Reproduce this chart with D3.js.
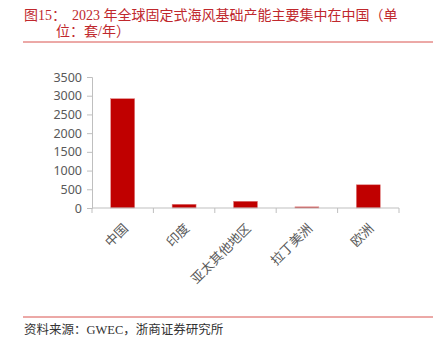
<!DOCTYPE html>
<html lang="zh">
<head>
  <meta charset="UTF-8" />
  <title>2023年全球固定式海风基础产能</title>
  <script src="https://d3js.org/d3.v7.min.js"></script>
  <style>
    body { margin: 0; padding: 0; background: #fff; }
    svg { display: block; }
    .title { font-family: "Liberation Serif", "Noto Sans CJK SC", serif; font-size: 14px; fill: #c0282d; }
    .source { font-family: "Liberation Serif", "Noto Sans CJK SC", serif; font-size: 12.5px; fill: #333; }
    .tick-label { font-family: "Noto Sans", "DejaVu Sans", sans-serif; font-size: 12.5px; fill: #595959; }
    .cat-label { font-family: "Noto Sans CJK SC", sans-serif; font-size: 13px; fill: #595959; }
  </style>
</head>
<body>
  <svg width="436" height="359"></svg>

  <script>
    // 数据
    const categories = ["中国", "印度", "亚太其他地区", "拉丁美洲", "欧洲"];
    const capacity = [2920, 100, 180, 30, 620];
    const yTicks = [0, 500, 1000, 1500, 2000, 2500, 3000, 3500];

    const svg = d3.select("svg");

    // 标题
    svg.append("text").attr("class", "title").attr("x", 24).attr("y", 20).text("图15：");
    svg.append("text").attr("class", "title").attr("x", 72).attr("y", 20)
      .text("2023 年全球固定式海风基础产能主要集中在中国（单");
    svg.append("text").attr("class", "title").attr("x", 56).attr("y", 36).text("位：套/年）");
    svg.append("line").attr("x1", 23).attr("x2", 433).attr("y1", 42).attr("y2", 42)
      .attr("stroke", "#d9534f").attr("stroke-width", 1);

    // 比例尺
    const x = d3.scaleBand().domain(categories).range([92, 399])
      .paddingInner(0.61).paddingOuter(0.305);
    const y = d3.scaleLinear().domain([0, 3500]).range([208, 77]);

    const axisColor = "#bfbfbf";

    // y 轴
    const gy = svg.append("g").attr("transform", "translate(92,0)")
      .call(d3.axisLeft(y).tickValues(yTicks).tickFormat(d3.format("d")).tickSize(5).tickPadding(5));
    gy.select(".domain").attr("stroke", axisColor);
    gy.selectAll(".tick line").attr("stroke", axisColor);
    gy.selectAll(".tick text").attr("class", "tick-label").attr("font-size", null).attr("font-family", null);

    // 柱子
    svg.append("g").selectAll("rect")
      .data(categories)
      .join("rect")
      .attr("x", d => x(d))
      .attr("width", x.bandwidth())
      .attr("y", (d, i) => y(capacity[i]))
      .attr("height", (d, i) => y(0) - y(capacity[i]))
      .attr("fill", "#c00000")
      .attr("stroke", "#e08080")
      .attr("stroke-width", 0.5);

    // x 轴
    const step = x.step();
    svg.append("line").attr("x1", 92).attr("x2", 399).attr("y1", y(0)).attr("y2", y(0))
      .attr("stroke", axisColor);
    const bounds = d3.range(categories.length + 1).map(i => 92 + i * step);
    svg.append("g").selectAll("line")
      .data(bounds)
      .join("line")
      .attr("x1", d => d).attr("x2", d => d)
      .attr("y1", y(0)).attr("y2", y(0) + 5)
      .attr("stroke", axisColor);

    svg.append("g").selectAll("text")
      .data(categories)
      .join("text")
      .attr("class", "cat-label")
      .attr("text-anchor", "end")
      .attr("dy", "0.35em")
      .attr("transform", d => `translate(${x(d) + x.bandwidth() / 2 + 3},226) rotate(-45)`)
      .text(d => d);

    // 来源
    svg.append("line").attr("x1", 23).attr("x2", 433).attr("y1", 317).attr("y2", 317)
      .attr("stroke", "#d9534f").attr("stroke-width", 1);
    svg.append("text").attr("class", "source").attr("x", 24).attr("y", 334)
      .text("资料来源：GWEC，浙商证券研究所");
  </script>
</body>
</html>
